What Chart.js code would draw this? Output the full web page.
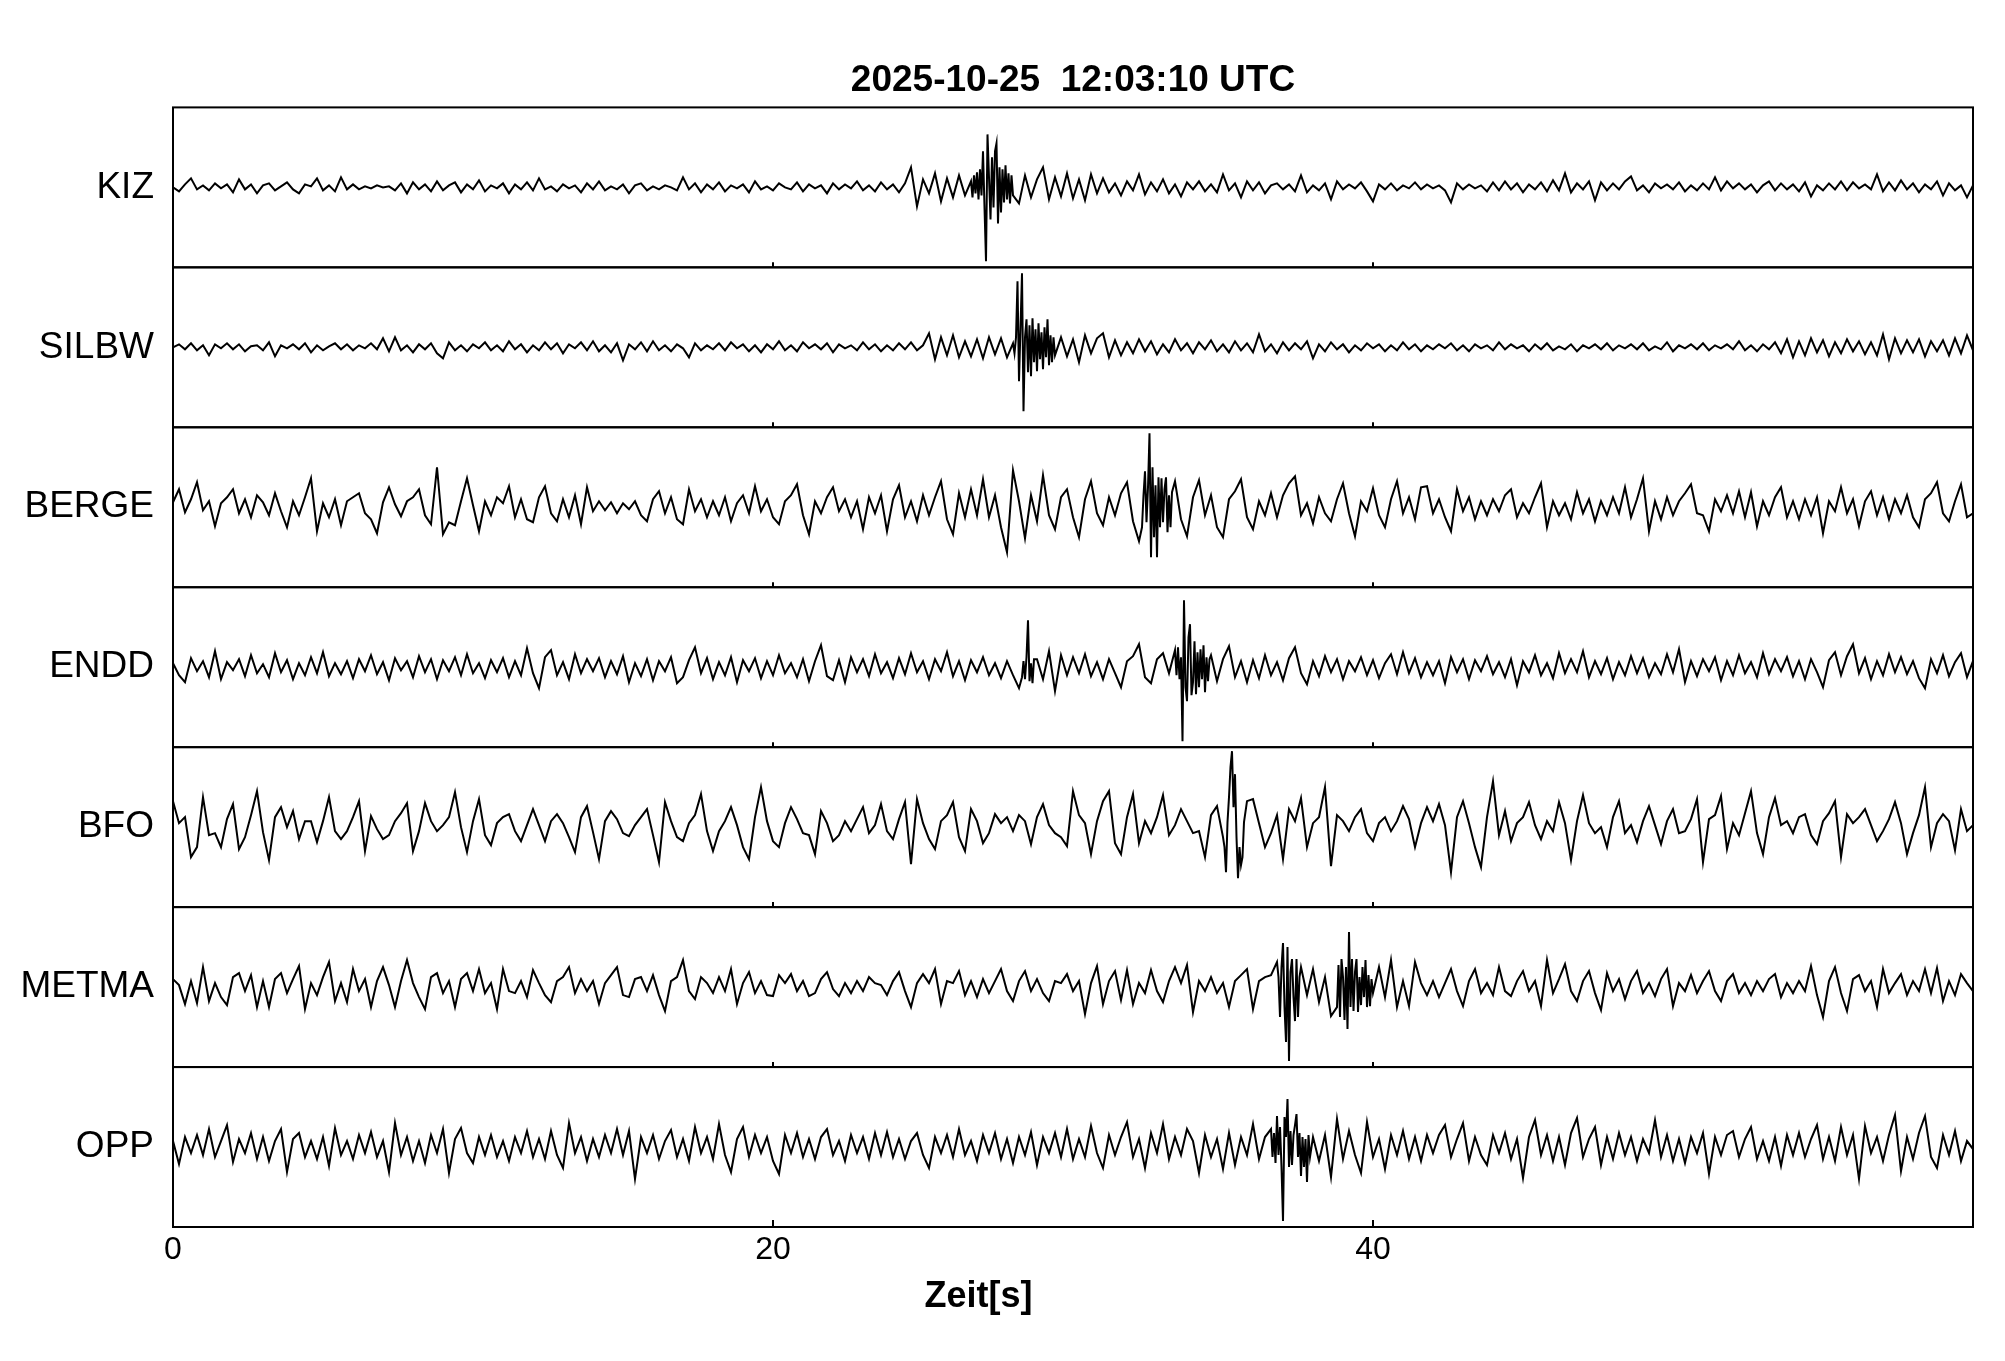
<!DOCTYPE html>
<html>
<head>
<meta charset="utf-8">
<script src="https://cdn.jsdelivr.net/npm/chart.js@4.4.0/dist/chart.umd.min.js"></script>
<style>
html,body{margin:0;padding:0;background:#fff;}
#wrap{width:2005px;height:1361px;background:#fff;}
</style>
</head>
<body>
<div id="wrap"><canvas id="c" width="2005" height="1361"></canvas></div>
<script>
// ---------- DATA ----------
const TITLE = '2025-10-25  12:03:10 UTC';
const X_LABEL = 'Zeit[s]';
const STATIONS = ['KIZ', 'SILBW', 'BERGE', 'ENDD', 'BFO', 'METMA', 'OPP'];
const X_TICKS = [0, 20, 40];
const T_MIN = 0, T_MAX = 60;
const DT = 0.2;        // sample step of the base traces [s]
const DT_FINE = 0.05;  // sample step of the event windows [s]

// base traces, one value every 0.2 s from 0 s to 60 s (301 values)
const KIZ = [
  0,-4,3,9,-2,2,-3,4,-1,3,-5,8,-2,3,-6,2,4,-3,1,5,-2,-6,3,1,9,-3,2,-4,10,-2,
  3,-2,1,-1,2,0,1,-3,4,-6,5,-2,3,-4,6,-3,2,5,-5,3,-2,7,-4,2,-1,4,-6,3,-2,5,
  -3,9,-2,1,-4,3,-1,2,-5,4,-2,6,-3,1,-2,3,-6,2,4,-3,1,-2,2,0,-3,10,-2,4,-5,3,
  -2,5,-4,2,-1,3,-5,6,-2,1,-3,4,0,-2,5,-4,3,-1,2,-6,4,-2,3,-1,6,-3,2,-4,5,-2,
  3,-5,4,20,-19,8,-6,14,-14,9,-10,12,-8,6,-12,30,-40,20,-10,-8,-12,-16,12,-10,8,20,-12,10,-9,14,
  -11,8,-13,13,-6,9,-5,4,-8,6,-3,13,-7,5,-4,8,-6,3,-9,5,-2,6,-4,3,-5,13,-3,4,-10,6,
  -3,5,-6,2,4,-2,3,-4,12,-5,2,-3,4,-12,6,-2,3,-1,5,-4,-14,3,-2,4,-3,2,-1,5,-2,3,
  -1,2,-3,-15,4,-2,3,-1,2,-4,5,-3,6,-2,4,-5,3,-2,5,-4,7,-3,14,-5,4,-2,6,-13,5,-3,
  4,-2,6,11,-3,2,-5,4,-1,3,-2,5,-4,2,-3,4,-2,10,-3,6,-1,4,-2,3,-5,2,6,-3,4,-2,
  3,-4,5,-9,2,-3,4,-2,6,-3,5,-1,3,-2,13,-4,5,-3,7,-2,4,-5,3,-2,6,-8,4,-3,2,-10,
  2
];
const SILBW = [
  0,3,-2,4,-3,2,-8,3,-1,4,-2,3,-4,1,2,-3,5,-9,2,-1,3,-2,4,-5,2,-3,1,4,-2,3,
  -3,2,-1,4,-2,9,-4,10,-3,2,-5,3,-2,4,-6,-11,5,-3,2,-4,3,-1,5,-3,2,-4,6,-2,3,-5,
  2,-3,5,-2,4,-6,3,-1,5,-3,6,-4,2,-5,4,-13,3,-2,5,-4,6,-3,2,-4,3,-1,-10,4,-3,2,
  -2,4,-3,5,-1,3,-4,2,-5,3,-2,6,-3,2,-4,5,-1,3,-2,4,-5,3,-1,2,-3,5,-2,3,-4,2,
  -3,4,-2,5,-3,2,14,-12,10,-8,12,-10,6,-9,8,-11,10,-7,9,-10,4,-20,40,-30,25,-20,15,-15,10,-9,
  8,-15,12,-6,9,14,-10,7,-8,5,-6,8,-4,6,-7,3,-5,8,-3,4,-6,5,-2,7,-4,3,-5,6,-3,4,
  -5,13,-4,3,-6,5,-3,4,-2,6,-11,3,-4,5,-2,3,-5,2,-3,4,-1,3,-4,2,-3,5,-2,3,-4,2,
  -2,3,-1,4,-3,2,-4,3,-1,2,-3,5,-2,3,-1,2,-4,3,-2,4,-3,1,-2,3,-4,2,-1,3,-2,4,
  -3,2,-1,3,-2,4,-3,1,-2,5,-4,2,-1,3,-2,4,-3,2,-1,3,-2,6,-3,2,-4,3,-2,5,-6,8,
  -10,6,-8,9,-5,7,-9,5,-6,8,-4,6,-7,5,-8,13,-12,9,-6,7,-5,8,-9,6,-4,7,-8,9,-6,12,
  -3
];
const BERGE = [
  5,18,-5,8,25,-3,6,-19,4,10,18,-6,8,-10,12,5,-8,14,-4,-20,6,-8,10,29,-24,4,-10,8,-18,6,
  10,14,-6,-12,-26,5,20,3,-9,6,10,18,-8,-17,40,-27,-15,-18,6,29,2,-24,6,-8,10,4,21,-10,8,-12,
  -15,10,21,-6,-14,8,-10,12,-17,20,-4,6,-3,5,-6,4,-2,6,-8,-14,8,16,-6,10,-12,-17,18,-4,8,-10,
  6,-8,10,-14,4,12,-6,21,-4,8,-10,-17,6,12,23,-8,-27,6,-6,10,20,-4,8,-10,6,-22,10,-6,12,-24,
  8,22,-10,6,-14,12,-8,10,26,-12,-27,14,-10,18,-8,28,-10,12,-20,-45,37,6,-31,12,-14,32,-8,-22,10,18,
  -10,-30,8,26,-6,-18,10,-8,14,25,-14,-34,36,74,-50,29,-20,26,-12,-29,10,27,-8,12,-20,-30,8,16,28,-10,
  -22,6,-8,14,-10,12,24,31,-8,4,-16,10,-6,-14,8,24,-6,-29,6,-4,19,-8,-20,8,26,-6,10,-12,20,21,
  -6,8,-10,-24,18,-4,10,-12,6,-8,8,-4,12,18,-10,4,-6,10,24,-20,6,-8,4,-12,15,-6,8,-14,6,-8,
  10,-6,20,-10,8,29,-24,6,-12,10,-8,6,14,23,-6,-8,-24,8,-4,12,-6,16,-10,15,-19,6,-8,10,20,-10,
  6,-12,8,-8,10,-26,6,-4,20,-6,8,-19,6,16,-8,10,-12,8,-6,12,-10,-20,8,14,25,-6,-14,6,23,-10,
  -6
];
const ENDD = [
  4,-8,-15,9,-4,6,-10,16,-12,5,-3,8,-9,12,-6,3,-10,14,-5,7,-12,4,-8,10,-6,15,-9,4,-7,6,
  -11,8,-4,12,-7,5,-13,9,-3,6,-10,11,-5,8,-12,7,-4,10,-8,13,-6,4,-11,7,-5,9,-10,6,-8,19,
  -6,-21,10,17,-8,5,-12,13,-6,8,-4,9,-10,6,-7,11,-15,4,-9,8,-13,6,-4,10,-16,-10,7,20,-6,9,
  -12,5,-8,10,-15,7,-4,9,-11,6,-8,12,-6,4,-10,8,-14,6,22,-9,-13,7,-15,10,-5,8,-9,13,-6,5,
  -11,9,-7,14,-5,6,-12,8,-4,15,-9,6,-13,7,-5,10,-8,4,-11,6,-8,-21,10,-8,8,-12,16,-24,12,-8,
  10,-6,13,-9,5,-12,8,-6,-20,6,11,23,-10,-16,8,14,-6,17,-74,43,-30,26,-25,12,-14,8,21,-10,6,-15,
  7,-11,12,-8,5,-13,9,20,-6,-17,6,-9,11,-5,8,-12,6,-4,10,-8,7,-11,4,13,-7,15,-6,9,-10,5,
  -8,6,-16,10,-5,8,-12,7,-4,11,-7,5,-10,8,-18,6,-5,12,-8,4,-11,14,-6,8,-5,16,-10,6,-7,9,
  -12,5,-8,11,-6,9,-10,4,-7,13,-5,18,-15,6,-9,8,-4,10,-13,6,-8,12,-6,5,-10,14,-7,8,-4,10,
  -9,6,-12,8,-5,-20,7,15,-8,11,23,-6,9,-12,6,-8,13,-5,10,-7,6,-11,-21,8,-6,12,-9,5,14,-10,
  6
];
const BFO = [
  26,4,10,-30,-20,30,-8,-6,-20,8,23,-22,-10,12,36,-5,-33,10,20,0,16,-12,6,6,-15,6,30,-4,-12,-4,
  10,26,-24,11,-2,-12,-8,6,14,24,-24,-4,24,6,-4,2,10,35,0,-25,6,28,-8,-18,4,10,13,-4,-14,2,
  18,2,-14,6,13,4,-10,-25,10,21,-5,-32,6,16,8,-6,-9,2,10,18,-8,-35,25,6,-10,-14,4,12,33,-4,
  -24,-4,6,20,2,-20,-32,10,40,6,-14,-20,4,20,8,-6,-8,-27,16,4,-14,-8,6,-4,8,20,-6,2,23,-4,
  -12,8,25,-37,28,4,-12,-22,6,12,25,-10,-24,18,6,-16,-6,13,4,10,-4,12,6,-17,10,23,2,-6,-10,-19,
  36,12,4,-27,6,26,36,-16,-27,10,33,-16,6,-6,10,32,-8,2,18,6,-6,-4,-30,12,21,-10,30,53,-38,26,
  28,4,-20,-6,12,-32,18,6,29,-20,4,10,40,-39,12,6,-4,10,18,-6,-14,4,10,-4,6,21,8,-20,4,20,
  6,23,2,-45,10,26,4,-20,-40,10,46,-8,16,-14,4,10,25,2,-12,6,-4,25,4,-33,6,32,4,-6,0,-20,
  10,26,-6,2,-15,6,21,2,-17,6,18,-6,-4,8,28,-35,8,12,31,-22,4,-8,14,36,-6,-27,10,29,2,6,
  -6,10,13,-8,-17,6,14,26,-30,13,4,10,18,2,-14,-4,8,25,4,-27,-6,12,40,-20,4,13,6,-23,18,-4,
  2
];
const METMA = [
  8,2,-17,6,-16,20,-14,4,-10,-18,10,14,-4,12,-20,6,-20,8,14,-6,8,21,-22,4,-8,10,25,-14,4,-15,
  18,-4,8,-20,6,20,2,-20,6,27,4,-10,-22,10,14,-6,6,-20,8,14,-4,18,-6,4,-22,18,-4,-6,6,-10,
  17,4,-8,-15,6,10,20,-6,8,-4,6,-17,4,12,20,-8,-10,8,10,-4,12,-8,-24,6,10,27,-4,-12,10,4,
  -6,10,-4,18,-17,4,15,-6,6,-8,-9,12,4,13,-4,6,-9,-6,8,15,-2,-9,4,-6,6,-4,10,4,2,-8,
  6,15,-4,-20,4,13,4,18,-17,6,4,16,-8,6,-10,8,-6,6,18,-4,-14,6,16,-4,8,-6,-14,6,4,13,
  -4,6,-27,4,21,-17,6,16,-13,17,-17,4,-6,17,-4,-15,6,20,4,22,-25,6,-4,10,-6,4,-20,6,12,18,
  -22,6,10,12,25,44,-74,-34,20,-8,18,-15,10,-29,-20,10,55,15,-18,-20,-6,20,-10,27,-20,6,-19,25,4,-8,
  6,-10,4,18,-4,-19,6,18,-6,4,-8,20,-4,-9,6,16,-4,6,-19,27,-6,8,23,-4,-14,6,16,-6,-23,14,
  -4,8,-12,6,16,-6,4,-9,8,18,-19,4,-4,12,-6,6,16,-4,-14,6,13,-6,4,-8,6,-4,8,13,-10,4,
  -6,6,-4,21,-8,-30,6,20,-6,-24,8,12,-4,6,-20,18,-6,4,13,-8,6,-4,18,-6,19,-14,6,-8,13,4,
  -4
];
const OPP = [
  6,-17,10,-6,12,-8,18,-10,6,22,-15,8,-6,14,-12,10,-14,6,18,-25,8,14,-10,6,-12,10,-19,19,-8,6,
  -12,12,-6,15,-10,6,-25,24,-8,10,-14,6,-16,12,-6,18,-26,8,19,-6,-16,10,-8,12,-10,6,-14,10,-6,16,
  -10,8,-12,16,-8,-21,24,-6,10,-14,8,-10,12,-6,18,-8,16,-32,10,-6,12,-12,6,17,-10,8,-14,20,-6,10,
  -12,23,-8,-25,8,20,-10,12,-6,10,-14,-27,12,-6,14,-10,8,-12,10,18,-8,6,-14,12,-6,10,-12,14,-8,15,
  -10,8,-12,6,14,-8,-21,10,-6,12,-10,18,-8,6,-14,12,-6,14,-12,8,-16,10,-8,15,-18,10,-6,14,-10,18,
  -12,8,-10,21,-6,-21,12,-8,10,25,-10,8,-21,14,-6,23,-12,10,-8,18,6,-26,12,-10,8,-22,14,-18,10,-8,
  23,-12,10,18,31,-74,48,33,-29,-35,10,-14,12,-30,28,-12,16,-8,-26,25,-10,8,-22,12,-8,16,-12,10,-14,12,
  -6,12,22,-10,8,24,-14,10,-8,-18,12,-6,14,-12,8,-31,10,27,-8,12,-14,10,-18,14,29,-10,8,20,-18,10,
  -12,14,-8,10,-14,8,-6,27,-10,12,-14,8,-16,10,-6,14,-27,10,-8,12,16,-10,8,20,-12,6,-14,10,-19,12,
  -8,14,-10,8,22,-12,10,-14,20,-8,12,-32,21,-6,10,-14,12,32,-24,10,-12,14,31,-10,-21,12,-8,16,-14,6,
  -2
];

// event windows, one value every 0.05 s from the given start time
const KIZ_EVENT_START = 26.6;
const KIZ_EVENT = [6,-10,12,-6,15,-12,18,-8,36,-20,-74,53,10,-32,30,-20,36,44,-36,20,-25,18,-15,22,-12,14,-16,12,-8];
const SILBW_EVENT_START = 28.0;
const SILBW_EVENT = [4,-6,10,66,-34,20,74,-64,10,28,-25,22,-29,29,-15,18,-24,24,-12,15,-22,20,-10,28,-18,12,-15,10,-8];
const BERGE_EVENT_START = 32.3;
const BERGE_EVENT = [-20,12,36,-15,20,74,-50,40,-30,22,-50,30,-20,29,-15,18,30,-25,12,-20,15];
const ENDD_EVENT1_START = 28.3;
const ENDD_EVENT1 = [-10,6,-12,10,47,-14,4,-16,8];
const ENDD_EVENT2_START = 33.4;
const ENDD_EVENT2 = [17,-8,20,-12,10,-74,67,-20,-34,30,43,-28,-15,26,-27,15,-20,18,-12,22,-25,10,-14,8,12];
const BFO_EVENT_START = 35.0;
const BFO_EVENT = [-10,-20,-45,5,30,60,76,20,53,-10,-51,-20,-38,-30,5];
const METMA_EVENT1_START = 36.8;
const METMA_EVENT1 = [25,10,-30,20,44,-20,-55,40,-74,15,28,-10,-34,28,-30,10,20];
const METMA_EVENT2_START = 38.8;
const METMA_EVENT2 = [-20,22,-30,28,10,-33,20,-42,55,-20,28,-24,15,28,-25,10,-18,20,-10,27,-20,12,-19,8,-6];
const OPP_EVENT_START = 36.6;
const OPP_EVENT = [18,-10,14,-16,31,-8,20,-20,-74,30,10,48,-20,16,-18,12,22,33,-10,14,-29,10,-20,8,-35,12,-10];

// ---------- build point tables ----------
function buildTrace(base, windows) {
  const spans = windows.map(w => [w.start, w.start + (w.values.length - 1) * DT_FINE]);
  const pts = [];
  base.forEach((v, i) => {
    const t = Math.round(i * DT * 1000) / 1000;
    if (!spans.some(s => t >= s[0] - 1e-6 && t <= s[1] + 1e-6)) pts.push({x: t, y: v});
  });
  windows.forEach(w => w.values.forEach((v, j) => {
    pts.push({x: Math.round((w.start + j * DT_FINE) * 1000) / 1000, y: v});
  }));
  pts.sort((a, b) => a.x - b.x);
  return pts;
}
const TRACES = [
  buildTrace(KIZ,   [{start: KIZ_EVENT_START, values: KIZ_EVENT}]),
  buildTrace(SILBW, [{start: SILBW_EVENT_START, values: SILBW_EVENT}]),
  buildTrace(BERGE, [{start: BERGE_EVENT_START, values: BERGE_EVENT}]),
  buildTrace(ENDD,  [{start: ENDD_EVENT1_START, values: ENDD_EVENT1}, {start: ENDD_EVENT2_START, values: ENDD_EVENT2}]),
  buildTrace(BFO,   [{start: BFO_EVENT_START, values: BFO_EVENT}]),
  buildTrace(METMA, [{start: METMA_EVENT1_START, values: METMA_EVENT1}, {start: METMA_EVENT2_START, values: METMA_EVENT2}]),
  buildTrace(OPP,   [{start: OPP_EVENT_START, values: OPP_EVENT}])
];

// ---------- chart ----------
const FONT = '"Liberation Sans", Arial, Helvetica, sans-serif';

const scales = {
  x: {
    type: 'linear', position: 'bottom', min: T_MIN, max: T_MAX,
    afterBuildTicks: s => { s.ticks = X_TICKS.map(v => ({value: v})); },
    ticks: { font: {family: FONT, size: 32}, color: '#000', padding: 4, maxRotation: 0, autoSkip: false },
    grid: { display: false, drawTicks: false },
    border: { display: false },
    afterFit: s => { s.height = 60; }
  }
};
STATIONS.forEach((name, i) => {
  scales['y' + i] = {
    type: 'linear', position: 'left', stack: 'traces', stackWeight: 1,
    weight: STATIONS.length - i,   // first station is placed at the top
    min: -80, max: 80,
    afterBuildTicks: s => { s.ticks = [{value: 0}]; },
    ticks: { callback: () => name, font: {family: FONT, size: 37}, color: '#000', padding: 19 },
    grid: { display: false, drawTicks: false },
    border: { display: false },
    afterFit: s => { s.width = 173; }
  };
});

const panelPlugin = {
  id: 'panels',
  afterDatasetsDraw(chart) {
    const {ctx, chartArea, scales: sc} = chart;
    const xs = sc.x;
    ctx.save();
    ctx.strokeStyle = '#000';
    ctx.lineWidth = 2;
    STATIONS.forEach((n, i) => {
      const ys = sc['y' + i];
      ctx.strokeRect(chartArea.left, ys.top, chartArea.right - chartArea.left, ys.bottom - ys.top);
      X_TICKS.forEach(v => {
        if (v <= T_MIN) return;
        const px = xs.getPixelForValue(v);
        ctx.beginPath();
        ctx.moveTo(px, ys.bottom);
        ctx.lineTo(px, ys.bottom - (i === STATIONS.length - 1 ? 7 : 5));
        ctx.stroke();
      });
    });
    ctx.fillStyle = '#000';
    ctx.font = 'bold 36px ' + FONT;
    ctx.textAlign = 'center';
    ctx.textBaseline = 'middle';
    const lx = chartArea.left + (chartArea.right - chartArea.left) * 0.4475;
    ctx.fillText(X_LABEL, lx, chartArea.bottom + 70);
    ctx.restore();
  }
};

new Chart(document.getElementById('c'), {
  type: 'line',
  data: {
    datasets: STATIONS.map((name, i) => ({
      label: name,
      data: TRACES[i],
      xAxisID: 'x',
      yAxisID: 'y' + i,
      borderColor: '#000',
      borderWidth: 2,
      pointRadius: 0,
      tension: 0,
      fill: false
    }))
  },
  options: {
    responsive: false,
    devicePixelRatio: 1,
    animation: false,
    events: [],
    layout: { padding: { left: 0, top: 0, right: 32, bottom: 74 } },
    scales: scales,
    plugins: {
      legend: { display: false },
      tooltip: { enabled: false },
      title: {
        display: true, text: TITLE, fullSize: false, color: '#000',
        font: { family: FONT, size: 37, weight: 'bold' },
        padding: { top: 59, bottom: 4 }
      }
    }
  },
  plugins: [panelPlugin]
});
</script>
</body>
</html>
